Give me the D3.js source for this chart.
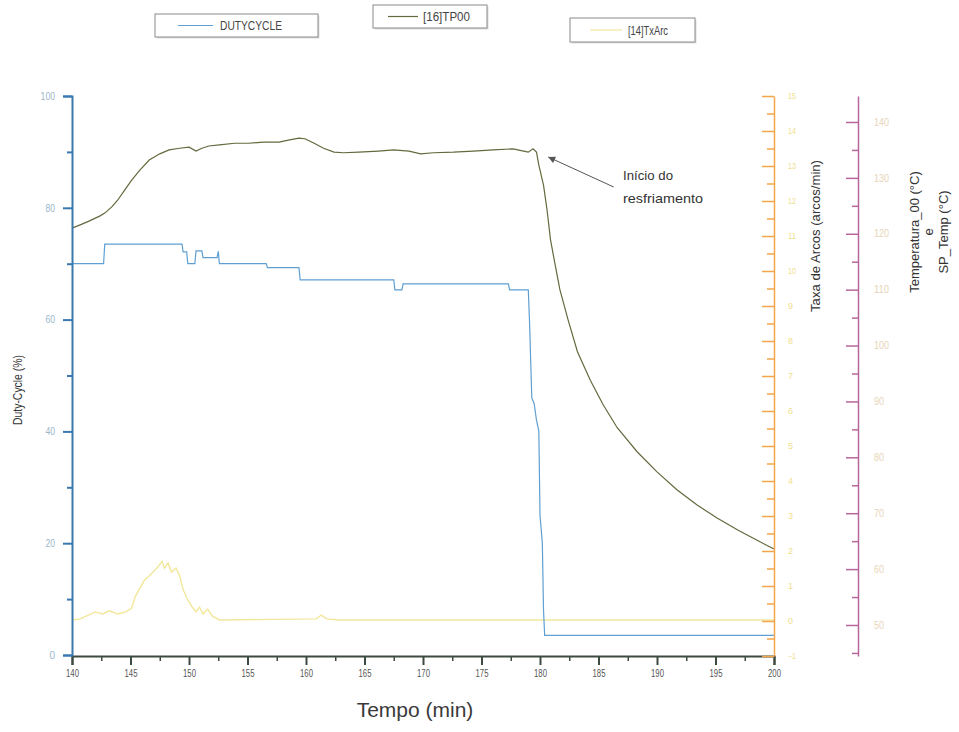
<!DOCTYPE html>
<html><head><meta charset="utf-8">
<script src="https://cdn.jsdelivr.net/npm/d3@7"></script>
<style>
html,body{margin:0;padding:0;background:#fff;}
svg{display:block;font-family:"Liberation Sans",Arial,sans-serif;}
</style></head><body>
<svg id="c" width="959" height="732"></svg>
<script>
// ---------- DATA ----------
const xTicks = [140,145,150,155,160,165,170,175,180,185,190,195,200];
const dutyTicks = [0,20,40,60,80,100];
const arcTicks = [-1,0,1,2,3,4,5,6,7,8,9,10,11,12,13,14,15];
const tempTicks = [50,60,70,80,90,100,110,120,130,140];

const dutyTime  = [140,142.7,142.8,149.4,149.5,149.8,149.9,150.5,150.6,151.1,151.2,152.4,152.5,152.6,156.6,156.7,159.4,159.5,167.5,167.6,168.2,168.3,177.3,177.4,179.0,179.1,179.3,179.5,179.7,179.9,180.0,180.2,180.3,180.4,200];
const dutyValue = [70.0,70.0,73.5,73.5,72.1,72.1,70.0,70.0,72.3,72.3,71.1,71.1,72.2,70.0,70.0,69.3,69.3,67.1,67.1,65.3,65.3,66.4,66.4,65.3,65.3,60.0,46.0,45.0,42.0,40.0,25.0,20.0,8.0,3.5,3.5];

const tpTime = [140.0,140.7,141.5,142.4,142.8,143.4,143.9,144.5,145.1,145.8,146.6,147.5,148.3,149.2,150.0,150.6,151.1,151.7,152.6,153.9,155.1,156.4,157.7,158.6,159.4,159.9,160.7,161.5,162.4,163.2,164.5,166.2,167.5,168.8,169.8,170.9,172.6,174.3,176.0,177.7,178.6,179.0,179.4,179.7,179.9,180.3,180.6,180.9,181.3,181.7,182.4,183.2,184.3,185.4,186.6,188.3,190.0,191.7,193.4,195.1,196.9,198.6,200.0];
const tpTemp = [121.0,121.6,122.3,123.2,123.7,124.8,126.0,127.8,129.6,131.4,133.2,134.3,135.0,135.3,135.5,134.8,135.3,135.7,135.9,136.2,136.2,136.4,136.4,136.8,137.1,137.0,136.2,135.3,134.6,134.5,134.6,134.8,135.0,134.8,134.3,134.5,134.6,134.8,135.0,135.2,134.8,134.6,135.2,134.6,132.3,128.7,124.3,118.9,114.4,110.0,104.6,98.9,93.8,89.4,85.3,81.0,77.4,74.2,71.5,69.2,67.0,65.1,63.6];

const arcTime  = [140.0,140.7,141.4,142.0,142.6,143.2,143.9,144.6,145.1,145.4,145.8,146.2,146.6,147.1,147.4,147.7,147.9,148.2,148.5,148.9,149.2,149.5,149.9,150.2,150.6,150.9,151.2,151.6,152.0,152.6,160.9,161.3,161.8,162.8,200.0];
const arcValue = [0.03,0.06,0.17,0.26,0.20,0.29,0.20,0.26,0.37,0.69,0.94,1.17,1.29,1.46,1.57,1.71,1.51,1.66,1.40,1.51,1.29,0.89,0.60,0.43,0.26,0.40,0.20,0.34,0.14,0.03,0.06,0.17,0.06,0.03,0.03];

const legendLabels = ["DUTYCYCLE","[16]TP00","[14]TxArc"];

// ---------- STYLE ----------
const cDuty="#5f9fd2", cTP="#66683e", cArc="#f2e79a";
const cLeftAxis="#3a78b0", cArcAxis="#f3a649", cTempAxis="#b7679b", cXAxis="#3c4a40";

const svg = d3.select("#c");
const x = d3.scaleLinear([140,200],[72,774]);
const yDuty = d3.scaleLinear([0,100],[655,96]);
const yArc = d3.scaleLinear([-1,15],[656,96]);
const yTemp = d3.scaleLinear([44.45,144.65],[656,96]);

// ---------- LINES ----------
const gl = svg.append("g");
gl.append("path").datum(d3.range(arcTime.length))
  .attr("fill","none").attr("stroke",cArc).attr("stroke-width",1.4)
  .attr("d", d3.line().x(i=>x(arcTime[i])).y(i=>yArc(arcValue[i])));
gl.append("path").datum(d3.range(dutyTime.length))
  .attr("fill","none").attr("stroke",cDuty).attr("stroke-width",1.2)
  .attr("d", d3.line().x(i=>x(dutyTime[i])).y(i=>yDuty(dutyValue[i])));
gl.append("path").datum(d3.range(tpTime.length))
  .attr("fill","none").attr("stroke",cTP).attr("stroke-width",1.2)
  .attr("d", d3.line().x(i=>x(tpTime[i])).y(i=>yTemp(tpTemp[i])));

// ---------- AXES ----------
function styleAxis(g, color, width, labelColor, fs, perChar){
  g.select(".domain").attr("stroke",color).attr("stroke-width",width);
  g.selectAll(".tick line").attr("stroke",color).attr("stroke-width",width);
  g.selectAll(".tick text").attr("fill",labelColor).attr("font-size",fs)
    .each(function(){
      const t=d3.select(this), s=t.text();
      if(perChar && s.length>1) t.attr("textLength",perChar*s.length).attr("lengthAdjust","spacingAndGlyphs");
    });
}
// x axis
const gx = svg.append("g").attr("transform","translate(0,656)")
  .call(d3.axisBottom(x).tickValues(xTicks).tickSizeOuter(0).tickSize(9).tickPadding(5).tickFormat(d3.format("d")));
styleAxis(gx, cXAxis, 2, "#555", 10.5, 4.3);
const gxm = svg.append("g").attr("transform","translate(0,656)")
  .call(d3.axisBottom(x).tickValues(xTicks.slice(0,-1).map(d=>d+2.5)).tickSize(5).tickFormat(""));
styleAxis(gxm, cXAxis, 1.5, "#555", 11); gxm.select(".domain").remove();

// left duty axis
const gy = svg.append("g").attr("transform","translate(72,0)")
  .call(d3.axisLeft(yDuty).tickValues(dutyTicks).tickSizeOuter(0).tickSize(9).tickPadding(8));
styleAxis(gy, cLeftAxis, 2, "#9cb8cc", 10, 4.8);
const gym = svg.append("g").attr("transform","translate(72,0)")
  .call(d3.axisLeft(yDuty).tickValues([10,30,50,70,90]).tickSize(5).tickFormat(""));
styleAxis(gym, cLeftAxis, 2, "#9cb8cc", 10); gym.select(".domain").remove();

// orange arc axis
const ga = svg.append("g").attr("transform","translate(774,0)")
  .call(d3.axisRight(yArc).tickValues(arcTicks).tickSizeOuter(0).tickSizeInner(-12).tickPadding(14).tickFormat(d3.format("d")));
styleAxis(ga, cArcAxis, 1.5, "#efe08c", 9, 4);
const gam = svg.append("g").attr("transform","translate(774,0)")
  .call(d3.axisRight(yArc).tickValues(arcTicks.slice(0,-1).map(d=>d+0.5)).tickSizeInner(-7).tickFormat(""));
styleAxis(gam, cArcAxis, 1.5, "#efe08c", 9); gam.select(".domain").remove();

// purple temp axis
const gt = svg.append("g").attr("transform","translate(858,0)")
  .call(d3.axisRight(yTemp).tickValues(tempTicks).tickSizeOuter(0).tickSizeInner(-12).tickPadding(16).tickFormat(d3.format("d")));
styleAxis(gt, cTempAxis, 1.5, "#e6d5b8", 10, 5);
const gtm = svg.append("g").attr("transform","translate(858,0)")
  .call(d3.axisRight(yTemp).tickValues([45,55,65,75,85,95,105,115,125,135]).tickSizeInner(-6).tickFormat(""));
styleAxis(gtm, cTempAxis, 1.5, "#e6d5b8", 10); gtm.select(".domain").remove();

// ---------- TITLES ----------
svg.append("text").attr("x",415).attr("y",717).attr("text-anchor","middle")
  .attr("font-size",21).attr("fill","#3a3a3a").text("Tempo (min)");
svg.append("text").attr("transform","translate(22,390) rotate(-90)").attr("text-anchor","middle")
  .attr("font-size",13).attr("fill","#333").attr("textLength",70).attr("lengthAdjust","spacingAndGlyphs").text("Duty-Cycle (%)");
svg.append("text").attr("transform","translate(820,236) rotate(-90)").attr("text-anchor","middle")
  .attr("font-size",13).attr("fill","#333").attr("textLength",152).attr("lengthAdjust","spacingAndGlyphs").text("Taxa de Arcos (arcos/min)");
const tt = svg.append("text").attr("transform","translate(919,232) rotate(-90)").attr("text-anchor","middle")
  .attr("font-size",13).attr("fill","#333");
tt.append("tspan").attr("x",0).attr("dy",0).text("Temperatura_00 (°C)");
tt.append("tspan").attr("x",0).attr("dy",14).text("e");
tt.append("tspan").attr("x",0).attr("dy",15).text("SP_Temp (°C)");

// ---------- ANNOTATION ----------
svg.append("defs").append("marker").attr("id","ah").attr("viewBox","0 0 10 10")
  .attr("refX",10).attr("refY",5).attr("markerWidth",9).attr("markerHeight",7).attr("orient","auto")
  .append("path").attr("d","M0,0 L10,5 L0,10 z").attr("fill","#555");
svg.append("line").attr("x1",x(186.3)).attr("y1",187).attr("x2",x(180.7)).attr("y2",157)
  .attr("stroke","#555").attr("stroke-width",1).attr("marker-end","url(#ah)");
svg.append("text").attr("x",623).attr("y",180).attr("font-size",13.5).attr("fill","#333")
  .attr("textLength",50).attr("lengthAdjust","spacingAndGlyphs").text("Início do");
svg.append("text").attr("x",623).attr("y",203).attr("font-size",13.5).attr("fill","#333")
  .attr("textLength",80).attr("lengthAdjust","spacingAndGlyphs").text("resfriamento");

// ---------- LEGEND ----------
const legendBoxes = [[155,14,163,23],[373,5,114,23],[570,18,125,24]];
const legendColors = [cDuty,cTP,cArc];
const legendTextX = [65,50,58], legendTextW = [62,47,40];
legendLabels.forEach((lab,i)=>{
  const [bx,by,bw,bh]=legendBoxes[i];
  const g=svg.append("g").attr("transform",`translate(${bx},${by})`);
  g.append("rect").attr("x",1.5).attr("y",1.5).attr("width",bw).attr("height",bh).attr("fill","#ddd");
  g.append("rect").attr("width",bw).attr("height",bh).attr("fill","#fff").attr("stroke","#8a8a8a").attr("stroke-width",1);
  g.append("line").attr("x1",i==2?20:i==1?15:23).attr("x2",i==2?52:i==1?45:58).attr("y1",bh/2).attr("y2",bh/2)
    .attr("stroke",legendColors[i]).attr("stroke-width",1.2);
  g.append("text").attr("x",legendTextX[i]).attr("y",bh/2+4.5).attr("font-size",12.5).attr("fill","#444")
    .attr("textLength",legendTextW[i]).attr("lengthAdjust","spacingAndGlyphs").text(lab);
});
</script></body></html>
